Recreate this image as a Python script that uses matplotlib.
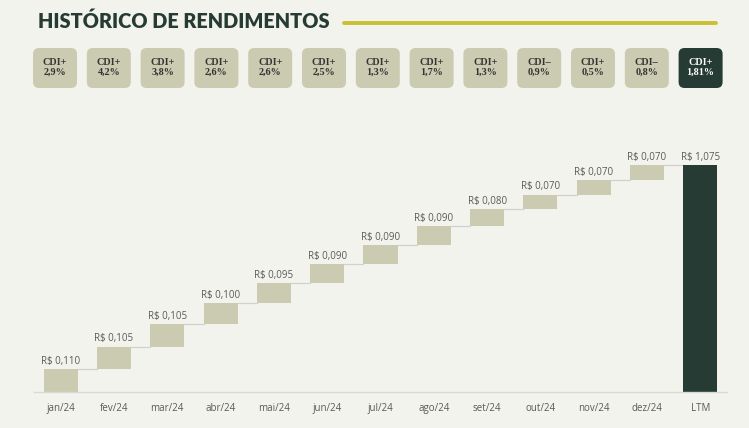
import numpy as np
import matplotlib.pyplot as plt
from matplotlib.patches import FancyBboxPatch

# monthly income per share (R$) and the year total
months = ["jan/24", "fev/24", "mar/24", "abr/24", "mai/24", "jun/24",
          "jul/24", "ago/24", "set/24", "out/24", "nov/24", "dez/24"]
income = [0.110, 0.105, 0.105, 0.100, 0.095, 0.090,
          0.090, 0.090, 0.080, 0.070, 0.070, 0.070]
total_label = "LTM"

# spread over CDI shown in the boxes on top
cdi_sign = ["+", "+", "+", "+", "+", "+", "+", "+", "+", "–", "+", "–", "+"]
cdi_pct = ["2,9%", "4,2%", "3,8%", "2,6%", "2,6%", "2,5%", "1,3%",
           "1,7%", "1,3%", "0,9%", "0,5%", "0,8%", "1,81%"]

bg = "#f3f3ee"
light = "#cbcbb2"
dark = "#253b34"
grey = "#595959"

W, H = 749, 428
fig = plt.figure(figsize=(W / 100, H / 100), dpi=100, facecolor=bg)

# overlay in pixel units for title, rule and CDI boxes
ov = fig.add_axes([0, 0, 1, 1])
ov.set_xlim(0, W)
ov.set_ylim(H, 0)
ov.axis("off")
ov.patch.set_alpha(0)

ov.text(38, 21.5, "HISTÓRICO DE RENDIMENTOS", fontsize=14.3, fontweight="heavy",
        family="Lato", color=dark, va="center", ha="left")
ov.plot([344, 716], [23, 23], color="#c9c132", lw=2.8, solid_capstyle="round")

n = len(cdi_pct)
for i in range(n):
    cx = 55 + i * 53.8
    fc = dark if i == n - 1 else light
    tc = "white" if i == n - 1 else "#333333"
    ov.add_patch(FancyBboxPatch((cx - 22, 48), 44, 40,
                                boxstyle="round,pad=0,rounding_size=6",
                                fc=fc, ec="none"))
    ov.text(cx, 62, "CDI" + cdi_sign[i], ha="center", va="center",
            fontsize=7.3, family="Liberation Serif", fontweight="bold", color=tc)
    ov.text(cx, 72.5, cdi_pct[i], ha="center", va="center",
            fontsize=7.3, family="Liberation Serif", fontweight="bold", color=tc)

# waterfall
ymax = 1.2
bottom_px, top_px = 392, 392 - 227 / 1.075 * ymax
ax = fig.add_axes([34 / W, (H - bottom_px) / H, (727 - 34) / W, (bottom_px - top_px) / H])
ax.set_facecolor("none")

vals = np.array(income)
cum = np.cumsum(vals)
starts = cum - vals
total = cum[-1]
x = np.arange(len(months) + 1)
bw = 0.64

ax.bar(x[:-1], vals, bottom=starts, width=bw, color=light, zorder=2)
ax.bar(x[-1], total, width=bw, color=dark, zorder=2)

levels = list(cum)
for i in range(len(months)):
    ax.plot([x[i] + bw / 2, x[i + 1] - bw / 2], [levels[i], levels[i]],
            color="#d0d0d0", lw=0.9, zorder=1)

def brl(v):
    return "R$ " + f"{v:.3f}".replace(".", ",")

lab_font = dict(fontsize=7, family="Open Sans", color=grey)
for i, v in enumerate(vals):
    ax.text(x[i], cum[i] + 0.01, brl(v), ha="center", va="bottom", **lab_font)
ax.text(x[-1], total + 0.01, brl(total), ha="center", va="bottom", **lab_font)

ax.set_xlim(-0.5, len(x) - 0.5)
ax.set_ylim(0, ymax)
ax.set_xticks(x)
ax.set_xticklabels(months + [total_label], **lab_font)
ax.tick_params(axis="x", length=0, pad=8)
ax.set_yticks([])
for s in ["top", "right", "left"]:
    ax.spines[s].set_visible(False)
ax.spines["bottom"].set_color("#d9d9d9")
ax.spines["bottom"].set_linewidth(1)

fig.savefig("out.png", dpi=100, facecolor=bg)
